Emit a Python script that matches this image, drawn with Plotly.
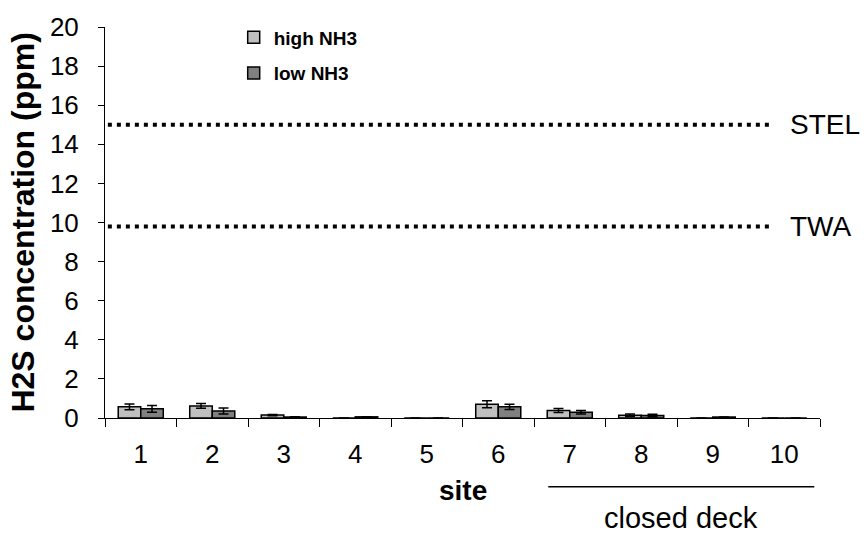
import plotly.graph_objects as go

sites = ["1", "2", "3", "4", "5", "6", "7", "8", "9", "10"]
high_nh3 = [0.57, 0.62, 0.15, 0.0, 0.0, 0.70, 0.38, 0.14, 0.0, 0.0]
high_err = [0.15, 0.12, 0.03, 0.0, 0.0, 0.18, 0.10, 0.06, 0.0, 0.0]
low_nh3 = [0.47, 0.36, 0.05, 0.06, 0.0, 0.57, 0.30, 0.13, 0.05, 0.0]
low_err = [0.17, 0.15, 0.02, 0.0, 0.0, 0.13, 0.09, 0.06, 0.0, 0.0]
limit_names = ["STEL", "TWA"]
limit_values = [15.0, 9.8]

FONT = "Liberation Sans, Arial, sans-serif"

fig = go.Figure()
fig.add_trace(go.Bar(
    x=sites, y=high_nh3, name="high NH3",
    marker=dict(color="#C0C0C0", line=dict(color="black", width=1.5)),
    error_y=dict(type="data", array=high_err, visible=True, color="black", thickness=1.5, width=5),
    legendgroup="a",
))
fig.add_trace(go.Bar(
    x=sites, y=low_nh3, name="low NH3",
    marker=dict(color="#808080", line=dict(color="black", width=1.5)),
    error_y=dict(type="data", array=low_err, visible=True, color="black", thickness=1.5, width=5),
    legendgroup="b",
))

for name, val in zip(limit_names, limit_values):
    fig.add_shape(type="line", xref="paper", yref="y", x0=0.004, x1=0.935, y0=val, y1=val,
                  line=dict(color="black", width=4, dash="4px,5px"))
    fig.add_annotation(text=name, xref="paper", yref="y", x=0.955, y=val, xanchor="left",
                       yanchor="middle", showarrow=False, font=dict(family=FONT, size=28, color="black"))

fig.add_annotation(text="<b>site</b>", xref="paper", yref="paper", x=0.5, y=-0.185,
                   xanchor="center", yanchor="middle", showarrow=False,
                   font=dict(family=FONT, size=28, color="black"))
fig.add_annotation(text="closed deck", xref="paper", yref="paper", x=0.806, y=-0.255,
                   xanchor="center", yanchor="middle", showarrow=False,
                   font=dict(family=FONT, size=29, color="black"))
fig.add_shape(type="line", xref="paper", yref="paper", x0=0.62, x1=0.992, y0=-0.176, y1=-0.176,
              line=dict(color="black", width=1.5))
fig.add_annotation(text="<b>H2S concentration (ppm)</b>", xref="paper", yref="paper",
                   x=-0.116, y=0.5, xanchor="center", yanchor="middle", textangle=-90,
                   showarrow=False, font=dict(family=FONT, size=32, color="black"))

fig.update_layout(
    width=868, height=533,
    margin=dict(l=105, r=48, t=20, b=115),
    paper_bgcolor="white", plot_bgcolor="white",
    barmode="group", bargap=0.37, bargroupgap=0,
    font=dict(family=FONT, color="black"),
    showlegend=True,
    legend=dict(x=0.18, y=1.022, xanchor="left", yanchor="top", bgcolor="rgba(0,0,0,0)",
                font=dict(family=FONT, size=19, color="black", weight="bold"),
                traceorder="grouped", tracegroupgap=8),
    xaxis=dict(type="category", tickson="boundaries", ticks="outside", ticklen=8, tickcolor="black",
               showline=True, linecolor="black", linewidth=1, showgrid=False,
               ticklabelstandoff=13,
               tickfont=dict(family=FONT, size=26, color="black")),
    yaxis=dict(range=[0, 20], dtick=2, ticks="outside", ticklen=6, tickcolor="black",
               showline=True, linecolor="black", linewidth=1, showgrid=False, zeroline=False,
               ticklabelstandoff=14,
               tickfont=dict(family=FONT, size=26, color="black")),
)

fig.write_html("out.html")
